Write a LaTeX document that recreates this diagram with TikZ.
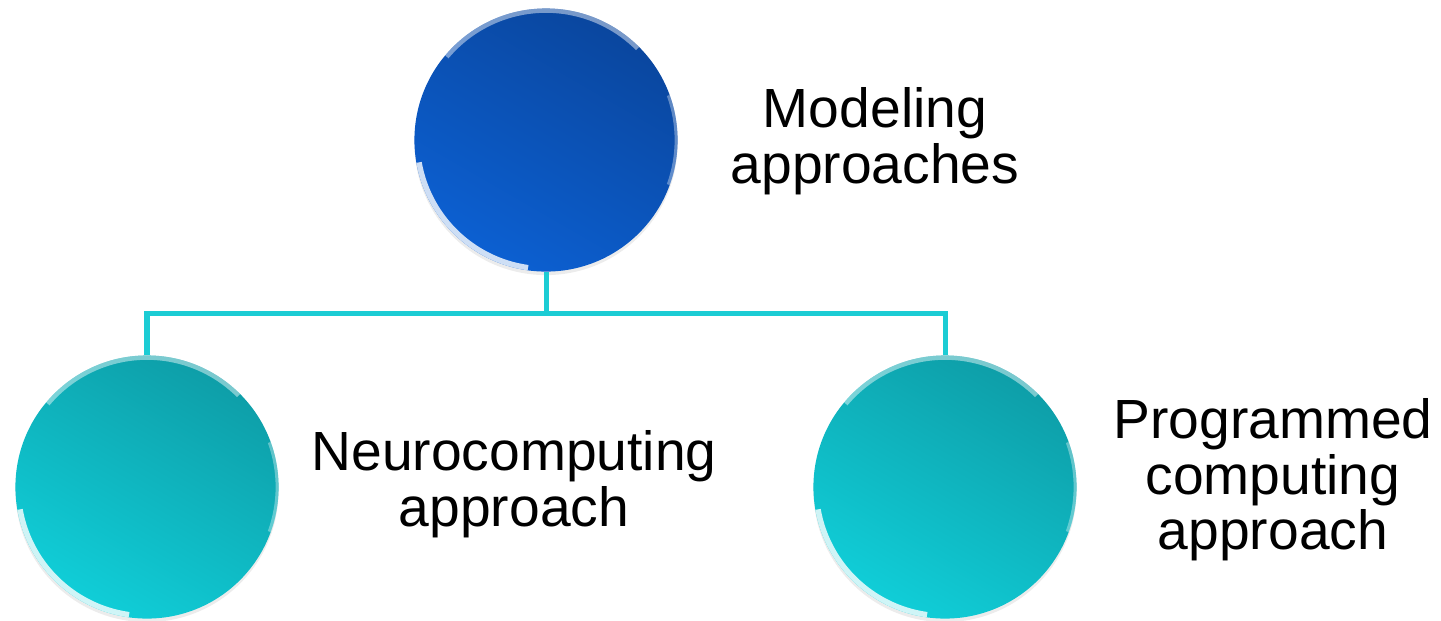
\documentclass[tikz,border=0pt]{standalone}
\usepackage{fontspec}
\setmainfont{Liberation Sans}
\usepackage{xcolor}
\usepackage{tikz}
\usetikzlibrary{positioning, calc, shadows}

\definecolor{rootblue}{RGB}{10,70,158}
\definecolor{rootlight}{RGB}{12,96,210}
\definecolor{leafteal}{RGB}{14,158,168}
\definecolor{leaflight}{RGB}{16,206,216}
\definecolor{linkcyan}{RGB}{28,204,212}

\tikzset{
  bubble/.style={circle, minimum size=2.63cm, inner sep=0pt,
    drop shadow={opacity=0.15, shadow xshift=0pt, shadow yshift=-1pt},
    path picture={
      % glossy rim highlights
      \draw[white, opacity=0.45, line width=2.2pt]
        ($(path picture bounding box.center)+(140:1.31cm)$) arc[start angle=140, end angle=45, radius=1.31cm];
      \draw[white, opacity=0.8, line width=2.2pt]
        ($(path picture bounding box.center)+(190:1.30cm)$) arc[start angle=190, end angle=262, radius=1.30cm];
      \draw[white, opacity=0.35, line width=1.4pt]
        ($(path picture bounding box.center)+(-20:1.31cm)$) arc[start angle=-20, end angle=20, radius=1.31cm];
    }},
  rootbubble/.style={bubble, shading=axis, top color=rootblue, bottom color=rootlight, shading angle=-30},
  leafbubble/.style={bubble, shading=axis, top color=leafteal, bottom color=leaflight, shading angle=-30},
  caption/.style={align=center, font=\fontsize{15.7}{15.8}\selectfont, text=black},
  link/.style={draw=linkcyan, line width=0.5mm}
}

\begin{document}
\begin{tikzpicture}[x=0.01cm, y=-0.01cm]
\useasboundingbox (0,0) rectangle (1441,620);

% Define nodes
\node[rootbubble] (root) at (546,140) {};
\node[leafbubble] (neuro) at (147,487) {};
\node[leafbubble] (prog) at (945,487) {};

% Connectors
\coordinate (fork) at (546,313);
\draw[link] (root.south) -- (fork);
\draw[link] (neuro.north) |- (fork) -| (prog.north);

% Labels
\node[caption] (rootlabel) at (875,141) {Modeling\\approaches};
\node[caption] (neurolabel) at (514,484) {Neurocomputing\\approach};
\node[caption] (proglabel) at (1273,480) {Programmed\\computing\\approach};

\end{tikzpicture}
\end{document}
